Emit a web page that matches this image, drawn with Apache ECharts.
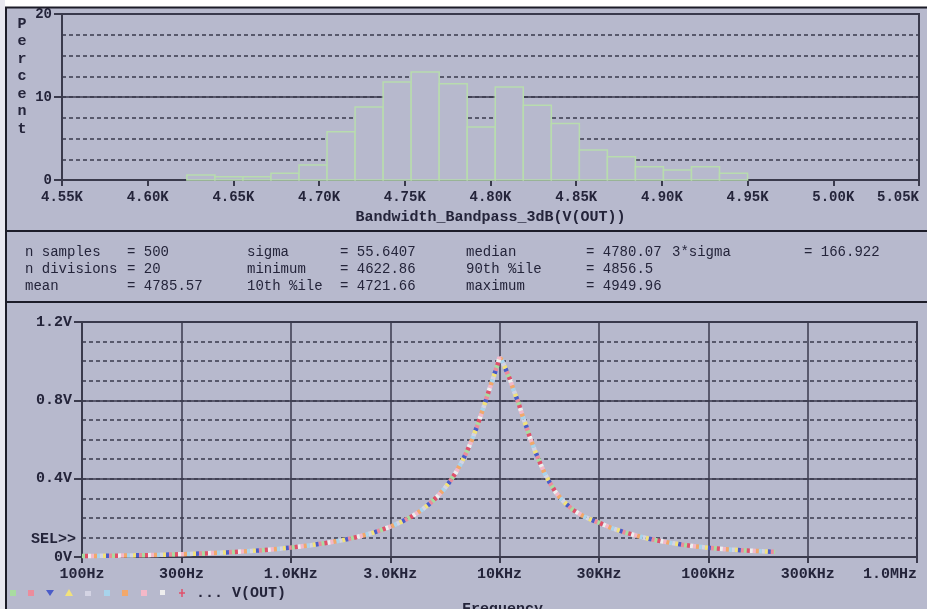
<!DOCTYPE html>
<html><head><meta charset="utf-8">
<script src="https://cdn.jsdelivr.net/npm/echarts@6/dist/echarts.min.js"></script>
<style>html,body{margin:0;padding:0;background:#fff;}#c{width:927px;height:609px;}</style>
</head><body><div id="c"></div>
<script>
// ---------- data ----------
const histTickValues = [4550,4600,4650,4700,4750,4800,4850,4900,4950,5000,5050];
const histTickLabels = ['4.55K','4.60K','4.65K','4.70K','4.75K','4.80K','4.85K','4.90K','4.95K','5.00K','5.05K'];
const percentTickValues = [0,10,20];
const percentTickLabels = ['0','10','20'];
const binPercent = [0.6,0.4,0.4,0.8,1.8,5.8,8.8,11.8,13.0,11.6,6.4,11.2,9.0,6.8,3.6,2.8,1.6,1.2,1.6,0.8];
const statMin = 4622.86;
const statMax = 4949.96;
const nDivisions = 20;
const statLabels1 = ['n samples','n divisions','mean'];
const statValues1 = ['= 500','= 20','= 4785.57'];
const statLabels2 = ['sigma','minimum','10th %ile'];
const statValues2 = ['= 55.6407','= 4622.86','= 4721.66'];
const statLabels3 = ['median','90th %ile','maximum'];
const statValues3 = ['= 4780.07','= 4856.5','= 4949.96'];
const statLabels4 = ['3*sigma'];
const statValues4 = ['= 166.922'];

const freqHz = [100,130,170,220,300,400,500,650,800,1000,1250,1500,1750,2000,2300,2600,3000,3400,3800,4200,4600,5000,5400,5800,6200,6600,7000,7400,7800,8200,8600,9000,9400,9800,10000,10300,10700,11200,11700,12300,12900,13400,14000,14700,15500,16400,17400,18600,19800,20900,22500,25100,27500,30000,34000,40000,46000,52000,58000,66000,75000,84000,100000,120000,145000,175000,209000];
const voutV = [0.005,0.006,0.008,0.010,0.014,0.019,0.024,0.031,0.038,0.048,0.060,0.073,0.085,0.098,0.114,0.131,0.155,0.180,0.207,0.237,0.270,0.305,0.344,0.387,0.434,0.486,0.542,0.602,0.666,0.733,0.800,0.866,0.925,0.985,1.02,1.00,0.96,0.91,0.85,0.79,0.72,0.67,0.61,0.55,0.49,0.43,0.38,0.33,0.295,0.27,0.24,0.21,0.19,0.175,0.15,0.125,0.107,0.093,0.083,0.072,0.063,0.056,0.047,0.040,0.034,0.030,0.026];
const freqTickValues = [100,300,1000,3000,10000,30000,100000,300000,1000000];
const freqTickLabels = ['100Hz','300Hz','1.0KHz','3.0KHz','10KHz','30KHz','100KHz','300KHz','1.0MHz'];
const voltTickValues = [0,0.4,0.8,1.2];
const voltTickLabels = ['0V','0.4V','0.8V','1.2V'];
const runColors = ['#a8dca0','#ec8c9c','#4a5cc8','#f2e27a','#d4d4e4','#a8d4ec','#f2a86a','#f4b8c8','#eeeeee','#e0506a'];

// ---------- styling ----------
const BG = '#b7b9cd';
const INK = '#24243a';
const GRID = '#3a3a4c';
const F = "'Liberation Mono','DejaVu Sans Mono',monospace";

const binWidth = (statMax - statMin) / nDivisions;
const histData = binPercent.map((p, i) => [statMin + i * binWidth, statMin + (i + 1) * binWidth, p]);
const curveData = freqHz.map((f, i) => [f, voutV[i]]);

function nearestLabel(values, labels, v) {
  let best = 0;
  for (let i = 1; i < values.length; i++) if (Math.abs(values[i] - v) < Math.abs(values[best] - v)) best = i;
  return labels[best];
}

const chart = echarts.init(document.getElementById('c'), null, {renderer: 'canvas'});

const graphics = [];
graphics.push({type: 'rect', shape: {x: 0, y: 0, width: 927, height: 7}, style: {fill: '#ffffff'}, z: 100});
graphics.push({type: 'rect', shape: {x: 0, y: 0, width: 5, height: 609}, style: {fill: '#e8e8f0'}, z: 100});
graphics.push({type: 'line', shape: {x1: 5, y1: 7.5, x2: 927, y2: 7.5}, style: {stroke: '#1c1c28', lineWidth: 2}, z: 101});
graphics.push({type: 'line', shape: {x1: 6, y1: 7, x2: 6, y2: 609}, style: {stroke: '#1c1c28', lineWidth: 2}, z: 101});
graphics.push({type: 'line', shape: {x1: 6, y1: 231, x2: 927, y2: 231}, style: {stroke: '#1c1c28', lineWidth: 2}, z: 101});
graphics.push({type: 'line', shape: {x1: 6, y1: 302, x2: 927, y2: 302}, style: {stroke: '#1c1c28', lineWidth: 2}, z: 101});

'Percent'.split('').forEach((ch, i) => {
  graphics.push({type: 'text', x: 22, y: 24 + i * 17.5, style: {text: ch, font: 'bold 15px ' + F, fill: INK, align: 'center', verticalAlign: 'middle'}, z: 102});
});

const rowsY = [252, 269, 286];
function statCol(arr, x) {
  arr.forEach((t, i) => graphics.push({type: 'text', x: x, y: rowsY[i], style: {text: t, font: '14px ' + F, fill: INK, verticalAlign: 'middle'}, z: 102}));
}
statCol(statLabels1, 25); statCol(statValues1, 127);
statCol(statLabels2, 247); statCol(statValues2, 340);
statCol(statLabels3, 466); statCol(statValues3, 586);
statCol(statLabels4, 672); statCol(statValues4, 804);

graphics.push({type: 'text', x: 76, y: 539, style: {text: 'SEL>>', font: 'bold 15px ' + F, fill: INK, align: 'right', verticalAlign: 'middle'}, z: 102});

const ly = 593;
graphics.push({type: 'rect', shape: {x: 10, y: ly - 3, width: 6, height: 6}, style: {fill: runColors[0]}, z: 102});
graphics.push({type: 'rect', shape: {x: 28, y: ly - 3, width: 6, height: 6}, style: {fill: runColors[1]}, z: 102});
graphics.push({type: 'polygon', shape: {points: [[46, ly - 3], [54, ly - 3], [50, ly + 3]]}, style: {fill: runColors[2]}, z: 102});
graphics.push({type: 'polygon', shape: {points: [[65, ly + 3], [73, ly + 3], [69, ly - 4]]}, style: {fill: runColors[3]}, z: 102});
graphics.push({type: 'rect', shape: {x: 85, y: ly - 2, width: 6, height: 5}, style: {fill: runColors[4]}, z: 102});
graphics.push({type: 'rect', shape: {x: 104, y: ly - 3, width: 6, height: 6}, style: {fill: runColors[5]}, z: 102});
graphics.push({type: 'rect', shape: {x: 122, y: ly - 3, width: 6, height: 6}, style: {fill: runColors[6]}, z: 102});
graphics.push({type: 'rect', shape: {x: 141, y: ly - 3, width: 6, height: 6}, style: {fill: runColors[7]}, z: 102});
graphics.push({type: 'rect', shape: {x: 160, y: ly - 3, width: 5, height: 5}, style: {fill: runColors[8]}, z: 102});
graphics.push({type: 'line', shape: {x1: 182, y1: ly - 4, x2: 182, y2: ly + 4}, style: {stroke: runColors[9], lineWidth: 1.5}, z: 102});
graphics.push({type: 'line', shape: {x1: 179, y1: ly, x2: 185, y2: ly}, style: {stroke: runColors[9], lineWidth: 1.5}, z: 102});
graphics.push({type: 'text', x: 196, y: ly, style: {text: '... V(OUT)', font: 'bold 15px ' + F, fill: INK, verticalAlign: 'middle'}, z: 102});
graphics.push({type: 'text', x: 462, y: 602, style: {text: 'Frequency', font: 'bold 15px ' + F, fill: INK, verticalAlign: 'top'}, z: 102});

const axisLineStyle = {lineStyle: {color: GRID, width: 2}};
const solidSplit = {show: true, lineStyle: {color: GRID, width: 1.5, type: 'solid'}};
const dashedSplit = {show: true, lineStyle: {color: GRID, width: 1.5, type: [4, 3]}};
const labelFont = {fontFamily: F, fontWeight: 'bold', color: INK};

const lineSeries = runColors.map((c, i) => ({
  type: 'line',
  name: 'V(OUT) run ' + (i + 1),
  xAxisIndex: 1, yAxisIndex: 2,
  data: curveData,
  showSymbol: false,
  silent: true,
  animation: false,
  lineStyle: {color: c, width: 4.5, type: [3, 3 * (runColors.length - 1)], dashOffset: i * 3},
  z: 5
}));

const option = {
  backgroundColor: BG,
  animation: false,
  grid: [
    {left: 62, top: 14, width: 857, height: 166, show: true, borderColor: GRID, borderWidth: 2},
    {left: 82, top: 322, width: 835, height: 235, show: true, borderColor: GRID, borderWidth: 2}
  ],
  xAxis: [
    {
      gridIndex: 0, type: 'value', min: 4550, max: 5050, interval: 50,
      axisLine: axisLineStyle,
      axisTick: {show: true, length: 6, lineStyle: {color: GRID, width: 2}},
      axisLabel: Object.assign({fontSize: 14, margin: 10, alignMaxLabel: 'right',
        formatter: v => nearestLabel(histTickValues, histTickLabels, v)}, labelFont),
      splitLine: {show: false},
      name: 'Bandwidth_Bandpass_3dB(V(OUT))', nameLocation: 'middle', nameGap: 30,
      nameTextStyle: {fontFamily: F, fontWeight: 'bold', fontSize: 15, color: INK}
    },
    {
      gridIndex: 1, type: 'log', logBase: 10, min: 100, max: 1000000,
      axisLine: axisLineStyle,
      axisTick: {show: true, length: 6, customValues: freqTickValues, lineStyle: {color: GRID, width: 2}},
      axisLabel: Object.assign({fontSize: 15, margin: 10, alignMaxLabel: 'right', customValues: freqTickValues,
        formatter: v => nearestLabel(freqTickValues, freqTickLabels, v)}, labelFont),
      splitLine: solidSplit
    }
  ],
  yAxis: [
    {
      gridIndex: 0, type: 'value', min: 0, max: 20, interval: 10,
      axisLine: axisLineStyle,
      axisTick: {show: true, length: 8, lineStyle: {color: GRID, width: 2}},
      axisLabel: Object.assign({fontSize: 14, margin: 10,
        formatter: v => nearestLabel(percentTickValues, percentTickLabels, v)}, labelFont),
      splitLine: solidSplit
    },
    {
      gridIndex: 0, type: 'value', min: 0, max: 20, interval: 2.5, position: 'left',
      axisLine: {show: false}, axisTick: {show: false}, axisLabel: {show: false},
      splitLine: dashedSplit
    },
    {
      gridIndex: 1, type: 'value', min: 0, max: 1.2, interval: 0.4,
      axisLine: axisLineStyle,
      axisTick: {show: true, length: 8, lineStyle: {color: GRID, width: 2}},
      axisLabel: Object.assign({fontSize: 15, margin: 10,
        formatter: v => nearestLabel(voltTickValues, voltTickLabels, v)}, labelFont),
      splitLine: solidSplit
    },
    {
      gridIndex: 1, type: 'value', min: 0, max: 1.2, interval: 0.1, position: 'left',
      axisLine: {show: false}, axisTick: {show: false}, axisLabel: {show: false},
      splitLine: dashedSplit
    }
  ],
  series: [
    {
      type: 'custom',
      name: 'histogram',
      xAxisIndex: 0, yAxisIndex: 0,
      data: histData,
      silent: true,
      z: 4,
      renderItem: function (params, api) {
        const p0 = api.coord([api.value(0), 0]);
        const p1 = api.coord([api.value(1), api.value(2)]);
        return {
          type: 'rect',
          shape: {x: p0[0], y: p1[1], width: p1[0] - p0[0], height: p0[1] - p1[1]},
          style: {fill: BG, stroke: '#b8dcae', lineWidth: 1.5}
        };
      }
    }
  ].concat(lineSeries),
  graphic: graphics
};
chart.setOption(option);
</script>
</body></html>
